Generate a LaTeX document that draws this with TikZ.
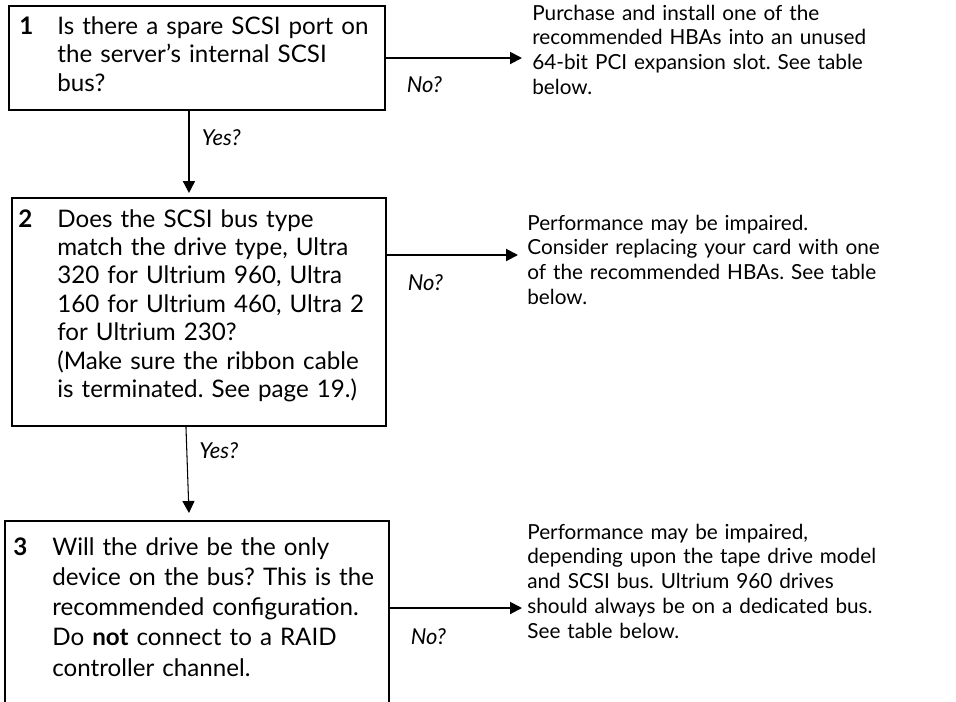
\documentclass[tikz,border=0pt]{standalone}
\usepackage{fontspec}
\setmainfont{Lato}
\usepackage{tikz}
\usetikzlibrary{arrows.meta}
\frenchspacing

\tikzset{
  qbox/.style={draw, line width=1.1pt, anchor=north west, inner sep=0pt},
  qnum/.style={anchor=base west, inner sep=0pt, font=\fontsize{13.75pt}{16.2pt}\selectfont\bfseries},
  qtext/.style={anchor=base west, inner sep=0pt, text width=7.2cm, align=left, font=\fontsize{13.75pt}{#1}\selectfont},
  qtext/.default=16.2pt,
  atext/.style={anchor=base west, inner sep=0pt, text width=8.3cm, align=left, font=\fontsize{11.8pt}{14.1pt}\selectfont},
  lbl/.style={inner sep=0pt, font=\fontsize{12.5pt}{14pt}\selectfont\itshape},
  arr/.style={line width=1.1pt, -{Triangle[length=0.24cm,width=0.24cm]}}
}

\begin{document}
\begin{tikzpicture}[scale=1]
\useasboundingbox (0,0) rectangle (19.12,-14.02);

\node [qbox, minimum width=7.52cm, minimum height=2.08cm] (q1) at (0.16,-0.10) {}; % box 1
\node [qbox, minimum width=7.48cm, minimum height=4.56cm] (q2) at (0.22,-3.94) {}; % box 2
\node [qbox, minimum width=7.68cm, minimum height=4.20cm] (q3) at (0.08,-10.40) {}; % box 3, runs off the page

\node [qnum] (n1) at (0.38,-0.69) {1};
\node [qtext] (t1) at (1.14,-0.69) {Is there a spare SCSI port on\\ the server’s internal SCSI\\ bus?};
\node [qnum] (n2) at (0.36,-4.54) {2};
\node [qtext] (t2) at (1.14,-4.54) {Does the SCSI bus type\\ match the drive type, Ultra\\ 320 for Ultrium 960, Ultra\\ 160 for Ultrium 460, Ultra 2\\ for Ultrium 230?\\ (Make sure the ribbon cable\\ is terminated. See page 19.)};
\node [qnum] (n3) at (0.26,-11.10) {3};
\node [qtext=17.25pt] (t3) at (1.04,-11.10) {Will the drive be the only\\ device on the bus? This is the\\ recommended configuration.\\ Do \textbf{not} connect to a RAID\\ controller channel.};

\node [atext] (a1) at (10.64,-0.40) {Purchase and install one of the\\ recommended HBAs into an unused\\ 64-bit PCI expansion slot. See table\\ below.};
\node [atext] (a2) at (10.54,-4.60) {Performance may be impaired.\\ Consider replacing your card with one\\ of the recommended HBAs. See table\\ below.};
\node [atext] (a3) at (10.54,-10.78) {Performance may be impaired,\\ depending upon the tape drive model\\ and SCSI bus. Ultrium 960 drives\\ should always be on a dedicated bus.\\ See table below.};

% yes arrows
\draw [arr] ([xshift=-0.16cm]q1.south) -- ([xshift=-0.16cm,yshift=0.08cm]q1.south |- q2.north) node [lbl, pos=0.33, anchor=west, xshift=0.24cm] (yes1) {Yes?};
\draw [arr, line width=0.6pt] ([xshift=-0.26cm]q2.south) -- ([xshift=-0.16cm,yshift=0.14cm]q3.north) node [lbl, pos=0.28, anchor=west, xshift=0.24cm] (yes2) {Yes?};

% no arrows
\draw [arr] ([yshift=-1.06cm]q1.north east) -- ([xshift=-0.2cm,yshift=-1.06cm]q1.north east -| a1.west) node [lbl, at start, anchor=west, xshift=0.4cm, yshift=-0.54cm] (no1) {No?};
\draw [arr] ([yshift=-1.16cm]q2.north east) -- ([xshift=-0.18cm,yshift=-1.16cm]q2.north east -| a2.west) node [lbl, at start, anchor=west, xshift=0.4cm, yshift=-0.56cm] (no2) {No?};
\draw [arr] ([yshift=-1.76cm]q3.north east) -- ([xshift=-0.1cm,yshift=-1.76cm]q3.north east -| a3.west) node [lbl, at start, anchor=west, xshift=0.4cm, yshift=-0.58cm] (no3) {No?};

\end{tikzpicture}
\end{document}
